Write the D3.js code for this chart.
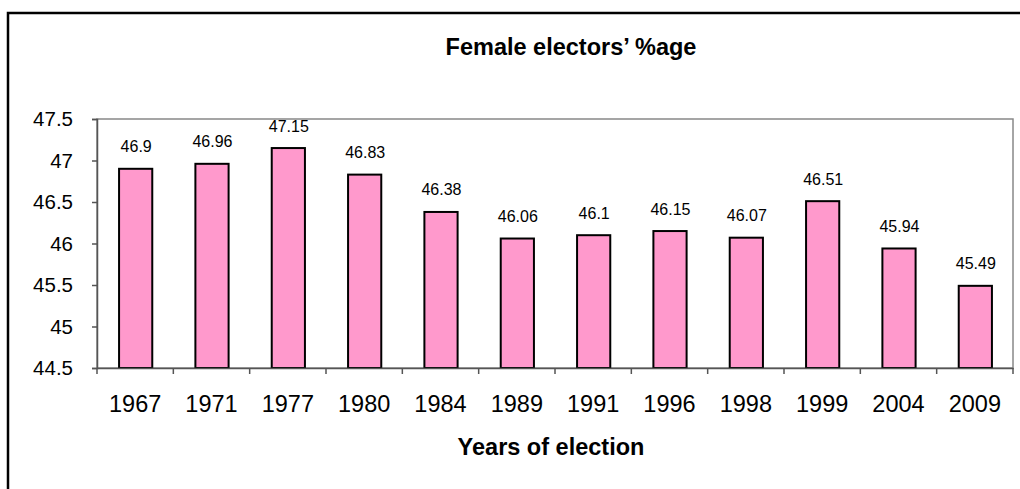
<!DOCTYPE html>
<html><head><meta charset="utf-8">
<script src="https://cdn.jsdelivr.net/npm/d3@7"></script>
<style>body{margin:0;background:#fff;} svg{display:block;} text{font-family:"Liberation Sans",Arial,sans-serif;}</style>
</head><body>
<svg id="c" width="1020" height="489"></svg>
<script>
const years = ["1967","1971","1977","1980","1984","1989","1991","1996","1998","1999","2004","2009"];
const values = [46.9,46.96,47.15,46.83,46.38,46.06,46.1,46.15,46.07,46.51,45.94,45.49];
const yTicks = [44.5,45,45.5,46,46.5,47,47.5];
const titleText = "Female electors\u2019 %age";
const xTitleText = "Years of election";

const svg = d3.select("#c");
const W = 1020, H = 489;
const m = {left: 97, right: 1013, top: 119, bottom: 368};

svg.append("rect").attr("width",W).attr("height",H).attr("fill","#fff");
svg.append("rect").attr("x",8).attr("y",13).attr("width",1030).attr("height",500)
  .attr("fill","none").attr("stroke","#000").attr("stroke-width",2.5);

const x = d3.scaleBand().domain(years).range([m.left, m.right]).padding(0);
const y = d3.scaleLinear().domain([44.5,47.5]).range([m.bottom, m.top]);

// plot border
svg.append("rect").attr("x",m.left).attr("y",m.top).attr("width",m.right-m.left).attr("height",m.bottom-m.top)
  .attr("fill","#fff").attr("stroke","#888").attr("stroke-width",1.5);

// bars
const bw = x.bandwidth()*0.435;
svg.append("g").selectAll("rect").data(values).join("rect")
  .attr("x",(d,i)=>x(years[i])+x.bandwidth()/2-bw/2+0.5)
  .attr("y",d=>y(d))
  .attr("width",bw)
  .attr("height",d=>y(44.5)-y(d))
  .attr("fill","#ff99cc").attr("stroke","#000").attr("stroke-width",2);

// value labels
svg.append("g").selectAll("text").data(values).join("text")
  .attr("x",(d,i)=>x(years[i])+x.bandwidth()/2+1)
  .attr("y",d=>y(d)-16.5)
  .attr("text-anchor","middle").attr("font-size",16).attr("fill","#000")
  .text(d=>String(d));

// y axis
const yAxis = d3.axisLeft(y).tickValues(yTicks).tickSize(5).tickPadding(19).tickFormat(d=>String(d));
const gy = svg.append("g").attr("transform",`translate(${m.left},0)`).call(yAxis);
gy.select(".domain").attr("stroke","#555").attr("stroke-width",1.5);
gy.selectAll(".tick line").attr("stroke","#555").attr("stroke-width",1.5);
gy.selectAll(".tick text").attr("font-size",20.5).attr("fill","#000").attr("font-family","Liberation Sans, Arial, sans-serif");

// x axis
const xAxis = d3.axisBottom(x).tickSize(0).tickPadding(27);
const gx = svg.append("g").attr("transform",`translate(0,${m.bottom})`).call(xAxis);
gx.select(".domain").attr("stroke","#555").attr("stroke-width",1.5);
gx.selectAll(".tick text").attr("font-size",23.5).attr("fill","#000").attr("font-family","Liberation Sans, Arial, sans-serif");
// category boundary ticks
const bounds = years.map(yr=>x(yr)).concat([m.right]);
gx.append("g").selectAll("line").data(bounds).join("line")
  .attr("x1",d=>d).attr("x2",d=>d).attr("y1",0).attr("y2",6)
  .attr("stroke","#555").attr("stroke-width",1.5);

// titles
svg.append("text").attr("x",571).attr("y",55).attr("text-anchor","middle")
  .attr("font-size",23.5).attr("font-weight","bold").text(titleText);
svg.append("text").attr("x",551).attr("y",455).attr("text-anchor","middle")
  .attr("font-size",23.5).attr("font-weight","bold").text(xTitleText);
</script>
</body></html>
